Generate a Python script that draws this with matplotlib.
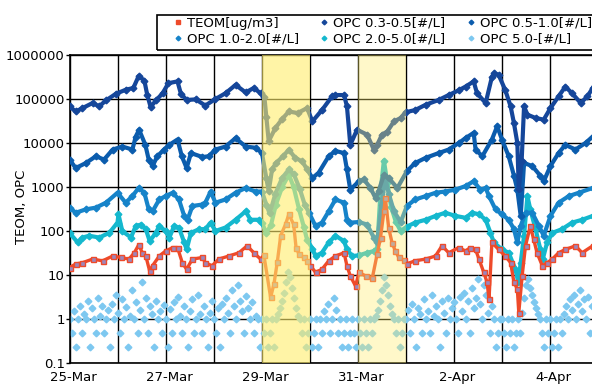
import numpy as np
import matplotlib
matplotlib.use('Agg')
import matplotlib.pyplot as plt
from matplotlib.lines import Line2D
from matplotlib.patches import Rectangle
from matplotlib.ticker import NullLocator, FixedLocator, FixedFormatter
import matplotlib.transforms as mtransforms

# ---------------- data ----------------
day_labels = ['25-Mar', '', '27-Mar', '', '29-Mar', '', '31-Mar', '', '2-Apr', '', '4-Apr']
ytick_vals = [0.1, 1, 10, 100, 1000, 10000, 100000, 1000000]
ytick_labels = ['0.1', '1', '10', '100', '1000', '10000', '100000', '1000000']
event1 = (4, 5)   # 29-Mar
event2 = (6, 7)   # 31-Mar

# time in days since 25-Mar 00:00
opc03_t = [0, 0.13, 0.27, 0.48, 0.62, 0.76, 0.97, 1.17, 1.33, 1.44, 1.56, 1.62, 1.69, 1.81, 1.94,
           2.06, 2.25, 2.32, 2.44, 2.63, 2.83, 3.04, 3.25, 3.46, 3.67, 3.84, 3.98, 4.06, 4.1, 4.15,
           4.29, 4.43, 4.57, 4.75, 4.95, 5.06, 5.26, 5.47, 5.54, 5.72, 5.78, 5.85, 5.99, 6.2, 6.34,
           6.41, 6.51, 6.62, 6.76, 6.9, 7.0, 7.2, 7.42, 7.69, 7.9, 8.11, 8.25, 8.42, 8.49, 8.67,
           8.8, 8.84, 8.94, 9.08, 9.19, 9.26, 9.33, 9.36, 9.42, 9.47, 9.54, 9.71, 9.88, 10.02,
           10.19, 10.33, 10.47, 10.65, 10.79, 10.9]
opc03_v = [68000, 52000, 62000, 81000, 68000, 93000, 132000, 162000, 178000, 331000, 263000, 123000,
           66000, 95000, 135000, 229000, 251000, 132000, 95000, 98000, 71000, 100000, 135000, 209000,
           141000, 178000, 135000, 112000, 40000, 11000, 22000, 35000, 52000, 48000, 62000, 31000,
           56000, 115000, 123000, 123000, 68000, 9100, 20000, 15500, 7100, 9100, 15500, 18200, 31000,
           37000, 50000, 56000, 74000, 95000, 123000, 158000, 191000, 251000, 135000, 81000, 316000,
           380000, 355000, 158000, 68000, 28000, 10000, 890, 4000, 68000, 44000, 37000, 34000, 62000,
           115000, 191000, 135000, 81000, 115000, 178000]

opc05_t = [0, 0.13, 0.34, 0.55, 0.72, 0.9, 1.1, 1.31, 1.38, 1.45, 1.58, 1.65, 1.73, 1.83, 1.97,
           2.08, 2.25, 2.34, 2.44, 2.53, 2.77, 2.9, 3.04, 3.25, 3.46, 3.67, 3.875, 4.01, 4.1, 4.15,
           4.22, 4.3, 4.45, 4.57, 4.7, 4.85, 4.95, 5.06, 5.19, 5.4, 5.54, 5.72, 5.78, 5.85, 6.03,
           6.13, 6.27, 6.375, 6.44, 6.55, 6.65, 6.83, 7.03, 7.2, 7.42, 7.69, 7.9, 8.11, 8.25, 8.42,
           8.46, 8.6, 8.8, 8.91, 9.01, 9.15, 9.26, 9.33, 9.4, 9.47, 9.64, 9.81, 9.88, 10.02, 10.19,
           10.33, 10.54, 10.75, 10.9]
opc05_v = [4200, 2700, 3500, 5000, 4200, 7100, 8300, 7100, 14000, 20000, 9100, 4200, 3000, 5000,
           7100, 9100, 12000, 5000, 2700, 5900, 4800, 5000, 7100, 8300, 12900, 8300, 7800, 5900, 1600,
           800, 2500, 3500, 5000, 7100, 4600, 3800, 2500, 1600, 2100, 5000, 6600, 5900, 2500, 870,
           1350, 1500, 950, 560, 810, 1900, 1600, 950, 2300, 3500, 4600, 5900, 7100, 10000, 12900,
           17000, 7100, 5000, 12000, 24000, 12000, 5000, 1800, 870, 220, 3500, 3000, 1800, 1350, 3000,
           5900, 9100, 7100, 10000, 14000]

opc10_t = [0, 0.13, 0.34, 0.55, 0.76, 1.0, 1.17, 1.31, 1.44, 1.56, 1.65, 1.73, 1.87, 2.0, 2.15,
           2.28, 2.39, 2.46, 2.56, 2.77, 2.83, 2.94, 3.04, 3.25, 3.46, 3.67, 3.875, 4.01, 4.1, 4.17,
           4.29, 4.43, 4.57, 4.67, 4.8, 4.9, 4.99, 5.125, 5.26, 5.4, 5.54, 5.72, 5.78, 5.85, 6.03,
           6.2, 6.34, 6.41, 6.5, 6.58, 6.65, 6.76, 6.9, 7.03, 7.2, 7.42, 7.625, 7.83, 8.04, 8.25,
           8.42, 8.56, 8.67, 8.74, 8.875, 9.01, 9.15, 9.26, 9.33, 9.4, 9.5, 9.64, 9.78, 9.88, 10.02,
           10.19, 10.4, 10.61, 10.9]
opc10_v = [340, 260, 310, 340, 440, 740, 440, 620, 950, 740, 310, 280, 520, 620, 740, 520, 220, 180,
           370, 400, 440, 790, 440, 520, 740, 950, 790, 790, 400, 250, 710, 1600, 2500, 2000, 890, 400,
           260, 130, 155, 280, 520, 440, 180, 155, 160, 140, 71, 56, 400, 1600, 710, 280, 160, 370, 520,
           620, 740, 790, 870, 1050, 1350, 870, 950, 620, 310, 240, 180, 110, 55, 130, 260, 260, 130,
           78, 220, 440, 620, 740, 950]

opc20_t = [0, 0.17, 0.27, 0.41, 0.62, 0.83, 1.0, 1.02, 1.1, 1.28, 1.38, 1.49, 1.59, 1.67, 1.8,
           1.87, 2.0, 2.08, 2.18, 2.28, 2.39, 2.44, 2.53, 2.7, 2.83, 2.94, 3.04, 3.25, 3.46, 3.67,
           3.77, 3.94, 4.01, 4.1, 4.2, 4.3, 4.43, 4.57, 4.67, 4.78, 4.88, 4.95, 5.06, 5.125, 5.26,
           5.4, 5.54, 5.72, 5.78, 5.89, 6.03, 6.2, 6.34, 6.41, 6.48, 6.55, 6.62, 6.7, 6.8, 6.9, 7.03,
           7.2, 7.42, 7.625, 7.83, 8.04, 8.25, 8.39, 8.53, 8.67, 8.77, 8.84, 9.01, 9.15, 9.29, 9.35,
           9.4, 9.47, 9.54, 9.6, 9.71, 9.81, 9.86, 9.95, 10.06, 10.26, 10.47, 10.68, 10.9]
opc20_v = [91, 55, 71, 78, 71, 91, 155, 240, 100, 71, 130, 140, 110, 59, 91, 130, 100, 71, 130, 120,
           55, 38, 91, 110, 110, 155, 100, 120, 180, 280, 180, 180, 155, 89, 140, 400, 1000, 1900,
           1000, 320, 126, 63, 40, 27, 32, 55, 78, 59, 38, 27, 28, 32, 35, 40, 790, 4000, 1260, 355,
           160, 100, 126, 155, 180, 220, 260, 220, 200, 260, 240, 180, 91, 55, 38, 32, 13.5, 6.8, 19,
           78, 620, 310, 110, 38, 23, 55, 91, 110, 155, 180, 220]

teom_t = [0, 0.13, 0.27, 0.48, 0.69, 0.9, 1.07, 1.24, 1.35, 1.44, 1.52, 1.59, 1.67, 1.73, 1.87,
          2.0, 2.15, 2.25, 2.35, 2.44, 2.56, 2.77, 2.83, 2.97, 3.11, 3.32, 3.53, 3.7, 3.84, 3.98,
          4.05, 4.19, 4.26, 4.33, 4.4, 4.5, 4.57, 4.67, 4.72, 4.78, 4.88, 4.95, 5.02, 5.125, 5.26,
          5.4, 5.54, 5.72, 5.78, 5.85, 5.96, 6.03, 6.17, 6.31, 6.41, 6.48, 6.55, 6.58, 6.65, 6.72,
          6.79, 6.86, 6.96, 7.03, 7.2, 7.42, 7.625, 7.76, 7.9, 8.11, 8.25, 8.35, 8.46, 8.53, 8.63,
          8.7, 8.74, 8.8, 8.94, 9.08, 9.19, 9.26, 9.33, 9.36, 9.43, 9.5, 9.6, 9.67, 9.74, 9.85,
          9.95, 10.06, 10.19, 10.33, 10.54, 10.68, 10.9]
teom_v = [14.8, 17.8, 19, 23, 21, 27, 25, 23, 32, 48, 32, 27, 12.3, 16.2, 27, 35, 42, 42, 19, 13.5,
          23, 25, 19, 16.2, 23, 27, 32, 46, 32, 23, 28, 3.1, 6.3, 20, 79, 141, 240, 141, 42, 30, 25,
          21, 16.2, 11.5, 13.5, 21, 27, 32, 16.2, 9.5, 5.6, 11.5, 9.5, 8.7, 30, 71, 280, 560, 117,
          54, 35, 25, 22, 18, 21, 23, 27, 46, 32, 42, 35, 42, 38, 23, 11.5, 6.8, 2.8, 55, 38, 27, 19,
          6.8, 4.8, 1.4, 9.5, 46, 129, 65, 32, 16.2, 19, 23, 32, 38, 46, 32, 46]

# OPC 5.0- : hourly values starting 25-Mar 00:00
opc50_v = [
    1, 0.48, 1.5, 0.23, 1, 2, 0.48, 1.3, 1, 2.5, 0.23, 1.8, 1, 0.48, 3, 1.2, 2, 0.48, 1, 1.6, 0.23, 2.2, 1, 3.5,
    1.4, 0.48, 2.8, 1, 1.9, 0.23, 1.2, 4.5, 1, 2.4, 0.48, 1.6, 7, 1, 3, 0.48, 2, 1.3, 0.23, 2.6, 1, 1.5, 0.48, 2.1,
    1, 0.23, 1.7, 0.48, 2.4, 1, 3.2, 1.2, 0.48, 2, 1, 0.23, 1.5, 2.8, 0.48, 1, 3.6, 1.3, 0.48, 2, 1, 0.23, 1.4, 2.5,
    1, 0.48, 1.8, 0.23, 2.2, 1, 3, 1.4, 0.48, 4.5, 2, 1, 6, 2.6, 1.5, 0.48, 3.4, 1.8, 1, 2.4, 0.48, 1.2, 1, 0.23,
    1, 0.48, 1, 0.23, 0.48, 1, 0.23, 1, 1.3, 1.8, 2.6, 4, 7, 12, 9, 5, 3, 1.8, 1.2, 1, 0.48, 1, 0.23, 0.48,
    1, 0.23, 0.48, 1, 0.23, 1, 0.48, 1.5, 1, 2.2, 0.48, 1, 3, 1.6, 0.48, 1, 0.23, 0.48, 1, 0.23, 0.48, 1, 0.48, 0.23,
    1, 0.48, 0.23, 1, 0.48, 0.23, 1, 0.48, 1, 1.2, 1.6, 2.5, 4.5, 9, 6, 3.5, 2, 1.3, 1, 0.48, 1, 0.23, 0.48, 1,
    1, 1.6, 0.48, 2.2, 1, 0.23, 1.8, 1.3, 0.48, 2.8, 1, 1.5, 0.48, 3.5, 1.2, 2, 1, 0.23, 2.5, 1.4, 0.48, 3, 1, 1.8,
    2.4, 1, 0.48, 3.2, 1.5, 4, 1, 2.6, 0.48, 5, 1.8, 3, 8, 2.2, 1, 6, 3.5, 1.4, 0.48, 2, 1, 0.23, 0.48, 1,
    1, 0.48, 0.23, 1, 0.48, 1, 0.23, 0.48, 1, 0.48, 1.4, 3, 6, 8, 5, 3.5, 2.4, 1.8, 1.3, 1, 0.48, 0.23, 1, 0.48,
    1, 0.23, 0.48, 1, 0.23, 1, 0.48, 1.3, 2, 1, 2.8, 1.6, 3.6, 1, 2.2, 4.5, 1.5, 2.8, 1, 3.2, 0.48, 2]
opc50_t = np.arange(len(opc50_v)) / 24.0

labels = ['TEOM[ug/m3]', 'OPC 0.3-0.5[#/L]', 'OPC 0.5-1.0[#/L]',
          'OPC 1.0-2.0[#/L]', 'OPC 2.0-5.0[#/L]', 'OPC 5.0-[#/L]']

# ---------------- style ----------------
c_teom = '#EE4A2A'
c03 = '#15469A'
c05 = '#0B5CAD'
c10 = '#1683C9'
c20 = '#14B8CE'
c50 = '#7DC8F0'

plt.rcParams['font.family'] = ['DejaVu Sans']
W, H = 592, 387
fig = plt.figure(figsize=(W / 100, H / 100), dpi=100)
left_px, top_px, bot_px = 69.5, 55, 363
ax = fig.add_axes([left_px / W, 1 - bot_px / H, 1 - left_px / W + 0.01, (bot_px - top_px) / H])

ax.set_yscale('log')
ax.set_ylim(0.1, 1e6)
px_per_day = 48.0
ax.set_xlim(0, (W + 0.01 * W - left_px) / px_per_day)

ax.yaxis.set_major_locator(FixedLocator(ytick_vals))
ax.yaxis.set_major_formatter(FixedFormatter(ytick_labels))
ax.yaxis.set_minor_locator(NullLocator())
ax.set_xticks(range(len(day_labels)))
ax.set_xticklabels(day_labels)
ax.tick_params(axis='x', length=0, pad=6, labelsize=9.5)
ax.tick_params(axis='y', length=3, width=1, pad=0.5, labelsize=9.5, direction='out')
for lab in ax.get_xticklabels():
    lab.set_transform(lab.get_transform() + mtransforms.ScaledTranslation(4 / 100, 0, fig.dpi_scale_trans))

ax.grid(True, which='major', color='black', lw=1.0)
ax.set_axisbelow(True)
for s in ['left', 'bottom', 'top']:
    ax.spines[s].set_color('black')
    ax.spines[s].set_linewidth(1.2)
ax.spines['right'].set_visible(False)

lw = 3.0
ax.plot(opc50_t, opc50_v, ls='none', marker='D', ms=3.4, color=c50, mec=c50, zorder=2)
ax.plot(opc20_t, opc20_v, lw=lw, marker='D', ms=3.4, color=c20, zorder=3)
ax.plot(opc10_t, opc10_v, lw=lw, marker='D', ms=3.4, color=c10, zorder=3)
ax.plot(opc05_t, opc05_v, lw=lw, marker='D', ms=3.4, color=c05, zorder=3)
ax.plot(opc03_t, opc03_v, lw=lw, marker='D', ms=3.4, color=c03, zorder=3)
ax.plot(teom_t, teom_v, lw=2.4, color=c_teom, marker='s', ms=3.6, mfc='#9C86BC', mec=c_teom,
        mew=1.0, zorder=4)

ax.axvspan(*event1, color=(1.0, 0.93, 0.42), alpha=0.6, lw=0, zorder=6)
ax.axvspan(*event2, color=(1.0, 0.93, 0.42), alpha=0.36, lw=0, zorder=6)

ax.set_ylabel('TEOM, OPC', fontsize=9.5)
ax.yaxis.set_label_coords((28 - left_px) / (W - left_px), 0.506)

# legend
def h(color, marker, ms):
    return Line2D([], [], ls='none', marker=marker, ms=ms, color=color, mec=color)

handles = [h(c_teom, 's', 2.6), h(c03, 'D', 2.4), h(c05, 'D', 2.4),
           h(c10, 'D', 2.4), h(c20, 'D', 2.4), h(c50, 'D', 2.4)]
order = [0, 3, 1, 4, 2, 5]
fig.legend([handles[i] for i in order], [labels[i] for i in order], ncol=3,
           loc='upper left', bbox_to_anchor=(172.5 / W, 1 - 17 / H), borderaxespad=0,
           borderpad=0, frameon=False, fontsize=9.5, handlelength=0.8, handletextpad=0.3,
           columnspacing=1.5, labelspacing=0.2)
fig.patches.append(Rectangle((157 / W, 1 - 50 / H), (W + 20 - 157) / W, 35 / H,
                             transform=fig.transFigure, fill=False, ec='black', lw=1.2))

fig.savefig('out.png', dpi=100)
